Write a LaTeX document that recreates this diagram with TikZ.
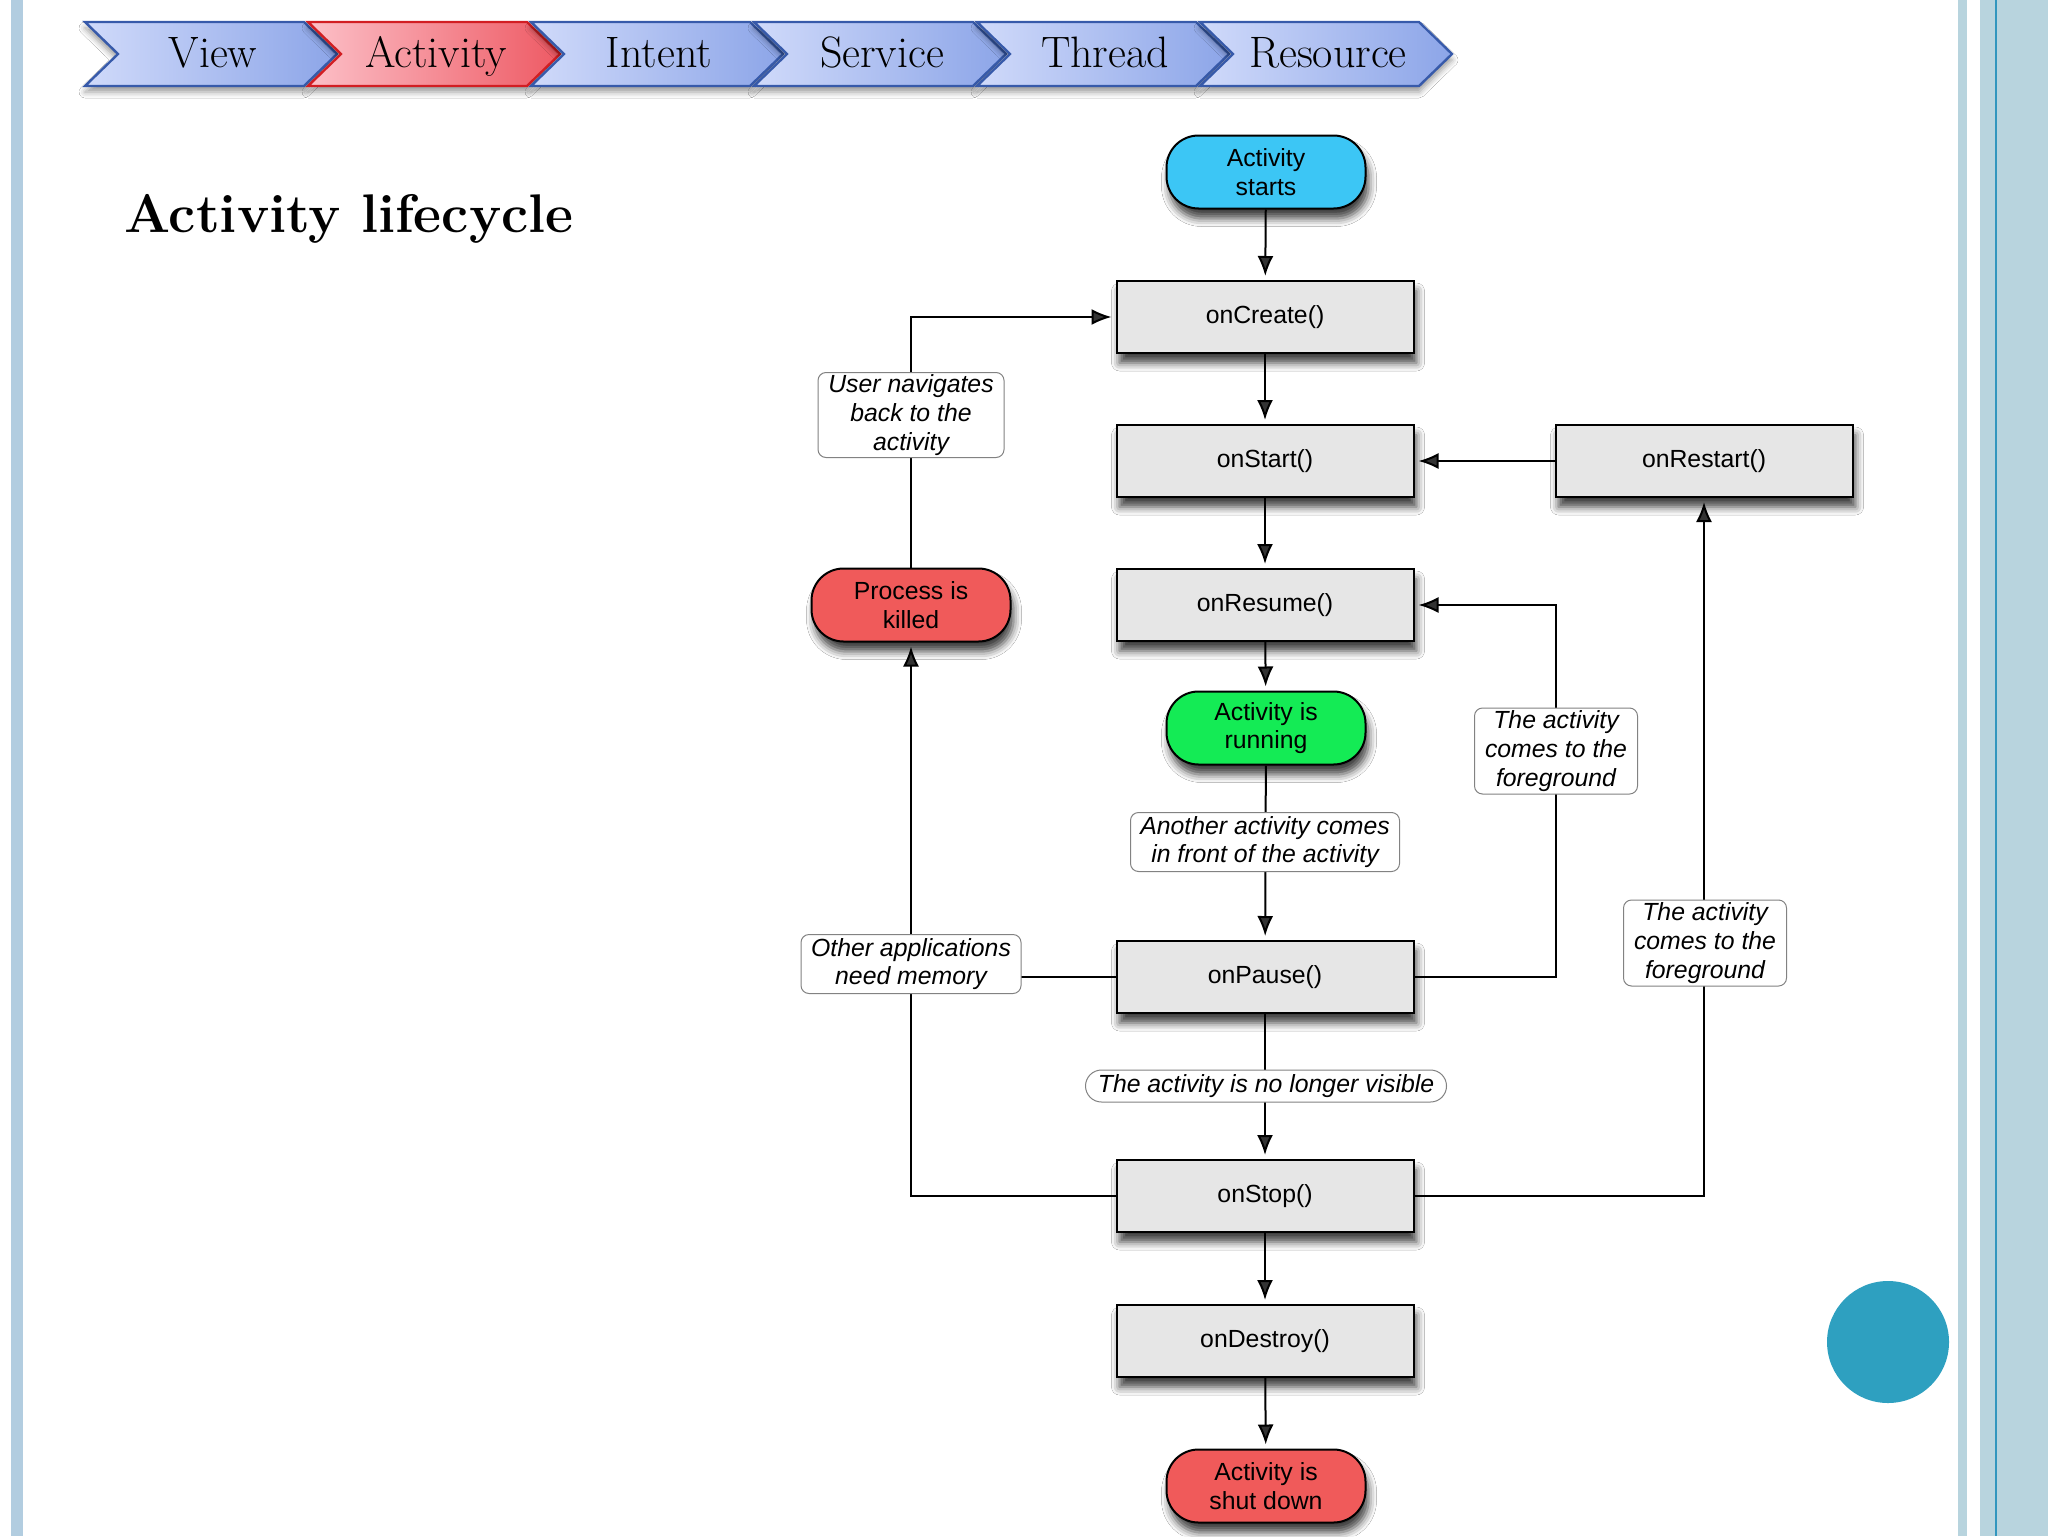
\documentclass[tikz,border=0pt]{standalone}
\usepackage{fontspec}
\newfontfamily\sansf{Liberation Sans}
\usetikzlibrary{arrows.meta,shadows.blur}
\definecolor{boxgray}{RGB}{230,230,230}
\definecolor{startblue}{RGB}{60,198,245}
\definecolor{rungreen}{RGB}{20,235,85}
\definecolor{killred}{RGB}{240,90,90}
\definecolor{stripeblue}{RGB}{178,205,224}
\definecolor{rstripe}{RGB}{184,212,222}
\definecolor{rline}{RGB}{50,150,190}
\definecolor{dotblue}{RGB}{46,160,192}
\definecolor{chevlight}{RGB}{208,218,250}
\definecolor{chevdark}{RGB}{140,165,232}
\definecolor{chevedge}{RGB}{55,90,170}
\definecolor{actlight}{RGB}{252,192,200}
\definecolor{actdark}{RGB}{238,90,100}
\definecolor{actedge}{RGB}{210,30,35}
\definecolor{lbledge}{RGB}{130,130,130}
\tikzset{
 boxfont/.style={font=\sansf\fontsize{12.4}{14.4}\selectfont},
 lblfont/.style={font=\sansf\itshape\fontsize{12.4}{14.4}\selectfont},
 shad/.style={blur shadow={shadow xshift=1.5pt, shadow yshift=-5pt, shadow blur radius=4pt, shadow opacity=75}},
 chevshad/.style={blur shadow={shadow xshift=0pt, shadow yshift=-3pt, shadow blur radius=3pt, shadow opacity=40}},
 method/.style={boxfont, draw=black, line width=1pt, fill=boxgray, minimum width=148.5pt, minimum height=36pt, inner sep=0pt, shad},
 pill/.style={boxfont, draw=black, line width=1pt, rounded corners=16pt, minimum width=99.5pt, minimum height=36.5pt, align=center, inner sep=0pt, shad},
 lbl/.style={lblfont, draw=lbledge, line width=0.5pt, fill=white, rounded corners=4pt, align=center, inner sep=0pt},
 arr/.style={line width=1pt, -{Latex[length=10pt,width=8pt]}, shorten >=2pt},
 conn/.style={line width=1pt},
 chevtxt/.style={font=\fontsize{22}{25}\selectfont, inner sep=0pt, anchor=base},
}
\begin{document}
\begin{tikzpicture}[x=0.5pt,y=-0.5pt]
\useasboundingbox (0,0) rectangle (2048,1536);
\fill[white] (0,0) rectangle (2048,1536);
\fill[stripeblue] (11,0) rectangle (23,1536);
\fill[rstripe] (1958,0) rectangle (1967,1536);
\fill[rstripe] (1980,0) rectangle (2048,1536);
\fill[rline] (1995,0) rectangle (1997,1536);
\fill[dotblue] (1888,1342) circle (30.5pt);

% banner
\foreach \t [count=\i from 0] in {View,Activity,Intent,Service,Thread,Resource}{
  \pgfmathsetmacro{\L}{85+223*\i}
  \ifnum\i=1
    \path[draw=actedge, line width=1.2pt, left color=actlight, right color=actdark, chevshad]
      (\L,22) -- ++(219,0) -- ++(33,32) -- ++(-33,32) -- ++(-219,0) -- ++(33,-32) -- cycle;
  \else
    \path[draw=chevedge, line width=1.2pt, left color=chevlight, right color=chevdark, chevshad]
      (\L,22) -- ++(219,0) -- ++(33,32) -- ++(-33,32) -- ++(-219,0) -- ++(33,-32) -- cycle;
  \fi
  \node[chevtxt] (tab\i) at (\L+128,68) {\t};
}

\node[anchor=base west, inner sep=0pt, font=\bfseries\fontsize{27.2}{30}\selectfont] (title) at (124,232) {Activity lifecycle};

% main nodes
\node[pill, fill=startblue] (start) at (1266,172) {Activity\\starts};
\node[method] (create) at (1265,317) {onCreate()};
\node[method] (onstart) at (1265,461) {onStart()};
\node[method] (restart) at (1704,461) {onRestart()};
\node[method] (resume) at (1265,605) {onResume()};
\node[pill, fill=rungreen] (running) at (1266,728) {Activity is\\running};
\node[method] (pause) at (1265,977) {onPause()};
\node[method] (stop) at (1265,1196) {onStop()};
\node[method] (destroy) at (1265,1341) {onDestroy()};
\node[pill, fill=killred] (shutdown) at (1266,1486) {Activity is\\shut down};
\node[pill, fill=killred] (killed) at (911,605) {Process is\\killed};
\coordinate (otherE) at (1021,977);
\coordinate (fgline) at (1556,751);

% connectors
\draw[arr] (start) -- (create);
\draw[arr] (create) -- (onstart);
\draw[arr] (onstart) -- (resume);
\draw[arr] (resume) -- (running);
\draw[arr] (running) -- (pause);
\draw[arr] (pause) -- (stop);
\draw[arr] (stop) -- (destroy);
\draw[arr] (destroy) -- (shutdown);
\draw[arr] (restart) -- (onstart);
\draw[arr] (pause.east) -| (fgline) |- (resume.east);
\draw[arr] (stop.east) -| (restart.south);
\draw[arr] (stop.west) -| (killed.south);
\draw[conn] (pause.west) -- (otherE);
\draw[arr] (killed.north) |- (create.west);

% labels (drawn over the connectors)
\node[lbl, minimum width=93pt, minimum height=42.5pt] (user) at (911,415) {User navigates\\back to the\\activity};
\node[lbl, minimum width=134.5pt, minimum height=29.5pt] (another) at (1265,842) {Another activity comes\\in front of the activity};
\node[lbl, minimum width=110pt, minimum height=29.5pt] (other) at (911,964) {Other applications\\need memory};
\node[lbl, minimum width=180.5pt, minimum height=16pt, rounded corners=8pt] (invis) at (1266,1086) {The activity is no longer visible};
\node[lbl, minimum width=81.5pt, minimum height=43pt] (fg1) at (fgline) {The activity\\comes to the\\foreground};
\node[lbl, minimum width=81.5pt, minimum height=43pt] (fg2) at (1705,943) {The activity\\comes to the\\foreground};
\end{tikzpicture}
\end{document}
